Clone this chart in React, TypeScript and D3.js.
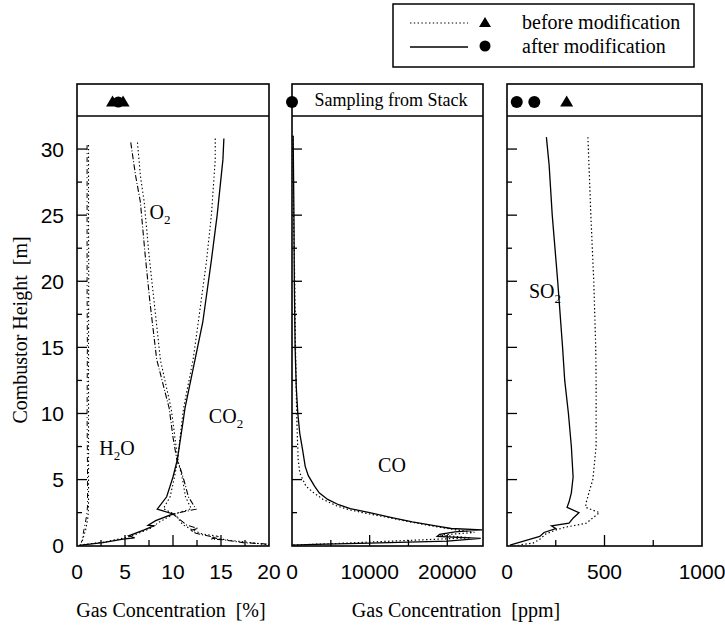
import React from "react";
import * as d3 from "d3";

// ---------- data: [height m, value] ----------
const O2_AFTER: [number, number][] = [
  [30.5, 5.6], [28, 6.1], [26, 6.6], [22, 7.1], [18.4, 7.6], [14.1, 8.3], [10.4, 9.6], [8.2, 10.0],
  [6.5, 10.4], [6.0, 10.7], [4.8, 11.2], [3.7, 11.6], [2.76, 12.4], [2.4, 10.0], [1.57, 11.4],
  [1.3, 12.6], [1.15, 11.8], [0.94, 12.4], [0.6, 14.5], [0.5, 14.0], [0.45, 15.2], [0.23, 17.3],
  [0.13, 19.7], [0.05, 20.0],
];
const O2_BEFORE: [number, number][] = [
  [30.5, 6.3], [28, 6.6], [26, 7.0], [22, 7.5], [19, 7.95], [14, 8.7], [10.4, 9.8], [8.2, 10.2],
  [6.5, 10.5], [5, 11.0], [3.7, 11.3], [2.8, 11.9], [2.4, 10.2], [1.6, 11.0], [1.2, 12.0],
  [0.9, 13.0], [0.7, 14.8], [0.6, 14.0], [0.4, 16.0], [0.2, 18.5], [0.05, 20.0],
];
const CO2_AFTER: [number, number][] = [
  [30.8, 15.3], [29.2, 15.2], [25, 14.6], [21.6, 14.0], [16.9, 13.1], [14.1, 12.3], [10.4, 11.25],
  [9.5, 11.07], [6.5, 10.45], [5.2, 10.0], [3.7, 9.34], [2.76, 8.36], [2.4, 10.0], [1.9, 8.2],
  [1.55, 7.4], [1.5, 8.0], [1.2, 7.0], [0.75, 5.4], [0.6, 6.0], [0.5, 4.8], [0.23, 2.7], [0.03, 0.2],
];
const CO2_BEFORE: [number, number][] = [
  [30.8, 14.4], [29.2, 14.4], [25, 14.0], [21.6, 13.5], [17.8, 12.8], [14.1, 12.1], [10.4, 11.1],
  [8, 10.7], [6.5, 10.5], [5, 10.1], [3.7, 9.7], [2.8, 9.0], [2.4, 10.1], [1.8, 8.6], [1.3, 7.6],
  [0.9, 6.3], [0.6, 5.0], [0.3, 3.0], [0.05, 0.3],
];
const H2O_AFTER: [number, number][] = [
  [30.3, 1.05], [25, 1.05], [20, 1.05], [15, 1.08], [10, 1.05], [5, 1.1], [3, 1.1], [2.25, 1.0],
  [1.5, 0.8], [0.73, 0.6], [0.23, 0.45],
];
const H2O_BEFORE: [number, number][] = [
  [30.3, 1.2], [25, 1.2], [20, 1.22], [15, 1.2], [10, 1.2], [5, 1.2], [3, 1.2], [2.2, 1.15],
  [1.2, 0.9], [0.6, 0.65], [0.2, 0.5],
];
const CO_AFTER: [number, number][] = [
  [31, 150], [28, 200], [25, 250], [20, 300], [15, 400], [12, 550], [10, 750], [8.5, 1000],
  [7.3, 1350], [6, 1700], [5.3, 2100], [4.5, 2900], [4.0, 3500], [3.5, 4600], [3.1, 6000],
  [2.8, 7500], [2.5, 10000], [2.1, 13000], [1.8, 15500], [1.5, 18500], [1.3, 20500], [1.2, 24500],
  [1.05, 21000], [0.85, 19000], [0.7, 18700], [0.55, 24300], [0.35, 20000], [0.2, 10000],
  [0.1, 3000], [0.05, 0],
];
const CO_BEFORE: [number, number][] = [
  [31, 100], [25, 200], [20, 350], [15, 450], [10, 600], [8, 700], [6.5, 800], [5.5, 1000],
  [4.5, 1800], [4.0, 2800], [3.5, 4000], [3.0, 5800], [2.7, 7500], [2.4, 10000], [2.0, 13500],
  [1.6, 17000], [1.3, 20000], [1.0, 23500], [0.8, 19000], [0.6, 23000], [0.4, 15000],
  [0.15, 5000], [0.05, 0],
];
const SO2_AFTER: [number, number][] = [
  [30.9, 202], [28.8, 216], [25, 232], [20, 260], [15, 285], [12.5, 296], [10, 315], [7.5, 330],
  [5.2, 339], [4.0, 330], [3.3, 318], [2.9, 308], [2.5, 369], [2.1, 340], [1.7, 318], [1.5, 228],
  [1.3, 250], [1.0, 190], [0.7, 168], [0.5, 120], [0.2, 50], [0.05, 15],
];
const SO2_BEFORE: [number, number][] = [
  [30.9, 415], [25, 430], [20, 445], [15, 455], [12.5, 457], [7.5, 457], [5, 440], [4, 420],
  [3.2, 405], [2.9, 403], [2.5, 474], [2.1, 440], [1.7, 406], [1.4, 300], [1.2, 253], [0.9, 200],
  [0.5, 170], [0.2, 134], [0.05, 60],
];

// stack sampling markers (value)
const STACK_PCT_BEFORE = [3.7, 4.8];
const STACK_PCT_AFTER = [4.3];
const STACK_CO_AFTER = [0];
const STACK_SO2_AFTER = [50, 140];
const STACK_SO2_BEFORE = [306];

// tick labels
const PCT_TICKS = [0, 5, 10, 15, 20];
const PPM_CO_TICKS = [0, 10000, 20000];
const PPM_SO2_TICKS = [0, 500, 1000];
const HEIGHT_TICKS = [0, 5, 10, 15, 20, 25, 30];

const W = 725;
const H = 626;
const STRIP_TOP = 84;
const PLOT_TOP = 116;
const PLOT_BOTTOM = 546;
const STRIP_Y = 101;

const y = d3.scaleLinear().domain([0, 32.5]).range([545.7, PLOT_TOP]);

const panels = [
  { x0: 77, x1: 269, domain: [0, 20], major: [5, 10, 15], minor: [2.5, 7.5, 12.5, 17.5], labels: PCT_TICKS, labelFmt: (d: number) => String(d) },
  { x0: 292, x1: 483, domain: [0, 24600], major: [10000, 20000], minor: [5000, 15000], labels: PPM_CO_TICKS, labelFmt: (d: number) => String(d) },
  { x0: 507, x1: 702, domain: [0, 1000], major: [500], minor: [250, 750], labels: PPM_SO2_TICKS, labelFmt: (d: number) => String(d) },
];
const scales = panels.map((p) => d3.scaleLinear().domain(p.domain).range([p.x0, p.x1]));

const DOT = "1.4,2.4";
const serif = "'Liberation Serif', 'Times New Roman', serif";
const sans = "'Liberation Sans', Arial, sans-serif";

function pathFor(data: [number, number][], xs: d3.ScaleLinear<number, number>) {
  const line = d3
    .line<[number, number]>()
    .x((d) => xs(d[1]))
    .y((d) => y(d[0]));
  return line(data) || "";
}

function Tri({ cx, cy, s = 13 }: { cx: number; cy: number; s?: number }) {
  const h = s * 0.85;
  return <path d={`M${cx},${cy - h / 2} L${cx + s / 2},${cy + h / 2} L${cx - s / 2},${cy + h / 2} Z`} fill="#000" />;
}

function Chem({ x, yy, base, sub, tail }: { x: number; yy: number; base: string; sub: string; tail?: string }) {
  return (
    <text x={x} y={yy} fontFamily={serif} fontSize={20} textAnchor="middle">
      {base}
      <tspan fontSize={13} dy={5}>{sub}</tspan>
      {tail ? <tspan dy={-5}>{tail}</tspan> : null}
    </text>
  );
}

export default function App() {
  const [sx1, sx2, sx3] = scales;
  return (
    <svg width={W} height={H} style={{ position: "absolute", left: 0, top: 0, background: "#fff" }}>
      <rect x={0} y={0} width={W} height={H} fill="#fff" />
      {/* legend */}
      <rect x={393} y={4} width={301} height={63} fill="none" stroke="#000" strokeWidth={1.5} />
      <line x1={410} x2={468} y1={23} y2={23} stroke="#000" strokeWidth={1.2} strokeDasharray={DOT} />
      <Tri cx={485} cy={22} s={12} />
      <text x={522} y={29} fontFamily={serif} fontSize={20}>before modification</text>
      <line x1={410} x2={468} y1={47} y2={47} stroke="#000" strokeWidth={1.3} />
      <circle cx={485} cy={46} r={5.5} fill="#000" />
      <text x={522} y={53} fontFamily={serif} fontSize={20}>after modification</text>

      {panels.map((p, i) => {
        const xs = scales[i];
        return (
          <g key={i}>
            <rect x={p.x0} y={STRIP_TOP} width={p.x1 - p.x0} height={PLOT_BOTTOM - STRIP_TOP} fill="none" stroke="#000" strokeWidth={1.6} />
            <line x1={p.x0} x2={p.x1} y1={PLOT_TOP} y2={PLOT_TOP} stroke="#000" strokeWidth={1.6} />
            {/* y ticks */}
            {d3.range(2.5, 32.5, 2.5).map((v) => {
              const major = v % 5 === 0;
              return <line key={v} x1={p.x0} x2={p.x0 + (major ? 10 : 5)} y1={y(v)} y2={y(v)} stroke="#000" strokeWidth={1.3} />;
            })}
            {/* x ticks */}
            {p.major.map((v) => (
              <line key={"M" + v} x1={xs(v)} x2={xs(v)} y1={PLOT_BOTTOM} y2={PLOT_BOTTOM - 11} stroke="#000" strokeWidth={1.3} />
            ))}
            {p.minor.map((v) => (
              <line key={"m" + v} x1={xs(v)} x2={xs(v)} y1={PLOT_BOTTOM} y2={PLOT_BOTTOM - 6} stroke="#000" strokeWidth={1.3} />
            ))}
            {p.labels.map((v) => (
              <text key={"l" + v} x={xs(v)} y={579} fontFamily={sans} fontSize={21} textAnchor="middle">
                {p.labelFmt(v)}
              </text>
            ))}
          </g>
        );
      })}

      {/* y tick labels */}
      {HEIGHT_TICKS.map((v) => (
        <text key={v} x={64} y={y(v) + 7.5} fontFamily={sans} fontSize={21} textAnchor="end">
          {v}
        </text>
      ))}

      {/* panel 1 curves */}
      <g fill="none" stroke="#000">
        <path d={pathFor(H2O_BEFORE, sx1)} strokeWidth={1.1} strokeDasharray={DOT} />
        <path d={pathFor(H2O_AFTER, sx1)} strokeWidth={1} strokeDasharray="5,3,1,3" />
        <path d={pathFor(O2_BEFORE, sx1)} strokeWidth={1.1} strokeDasharray={DOT} />
        <path d={pathFor(O2_AFTER, sx1)} strokeWidth={1.1} strokeDasharray="6,2,1,2" />
        <path d={pathFor(CO2_BEFORE, sx1)} strokeWidth={1.1} strokeDasharray={DOT} />
        <path d={pathFor(CO2_AFTER, sx1)} strokeWidth={1.3} />
        {/* panel 2 */}
        <path d={pathFor(CO_BEFORE, sx2)} strokeWidth={1.2} strokeDasharray={DOT} />
        <path d={pathFor(CO_AFTER, sx2)} strokeWidth={1.3} />
        {/* panel 3 */}
        <path d={pathFor(SO2_BEFORE, sx3)} strokeWidth={1.2} strokeDasharray={DOT} />
        <path d={pathFor(SO2_AFTER, sx3)} strokeWidth={1.3} />
      </g>

      {/* stack markers */}
      {STACK_PCT_BEFORE.map((v) => <Tri key={"a" + v} cx={sx1(v)} cy={STRIP_Y} />)}
      {STACK_PCT_AFTER.map((v) => <circle key={"b" + v} cx={sx1(v)} cy={STRIP_Y + 1} r={5.5} fill="#000" />)}
      {STACK_CO_AFTER.map((v) => <circle key={"c" + v} cx={sx2(v)} cy={STRIP_Y + 1} r={6} fill="#000" />)}
      {STACK_SO2_AFTER.map((v) => <circle key={"d" + v} cx={sx3(v)} cy={STRIP_Y + 1} r={6} fill="#000" />)}
      {STACK_SO2_BEFORE.map((v) => <Tri key={"e" + v} cx={sx3(v)} cy={STRIP_Y} />)}
      <text x={391} y={106} fontFamily={serif} fontSize={18} textAnchor="middle">Sampling from Stack</text>

      {/* curve labels */}
      <Chem x={160} yy={219} base="O" sub="2" />
      <Chem x={226} yy={423} base="CO" sub="2" />
      <Chem x={117} yy={455} base="H" sub="2" tail="O" />
      <text x={392} y={472} fontFamily={serif} fontSize={20} textAnchor="middle">CO</text>
      <Chem x={545} yy={298} base="SO" sub="2" />

      {/* axis titles */}
      <text x={171} y={617} fontFamily={serif} fontSize={20} textAnchor="middle" xmlSpace="preserve">Gas Concentration  [%]</text>
      <text x={456} y={617} fontFamily={serif} fontSize={20} textAnchor="middle" xmlSpace="preserve">Gas Concentration  [ppm]</text>
      <text transform={`translate(27, 330) rotate(-90)`} fontFamily={serif} fontSize={20} textAnchor="middle" xmlSpace="preserve">Combustor Height  [m]</text>
    </svg>
  );
}
